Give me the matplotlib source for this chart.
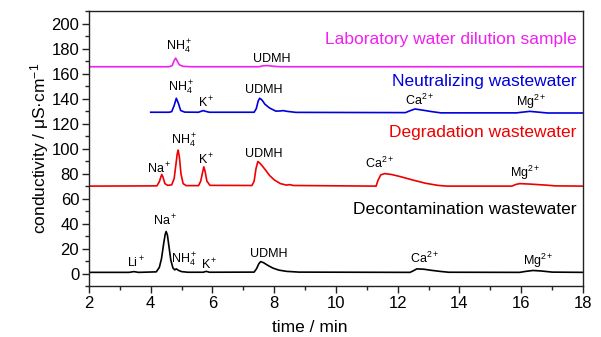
import matplotlib
matplotlib.use("Agg")
import matplotlib.pyplot as plt
from matplotlib.ticker import MultipleLocator

plt.rcParams['font.family'] = ['Liberation Sans', 'DejaVu Sans']
plt.rcParams['mathtext.fontset'] = 'custom'
plt.rcParams['mathtext.rm'] = 'Liberation Sans'
plt.rcParams['mathtext.it'] = 'Liberation Sans:italic'
plt.rcParams['mathtext.sf'] = 'Liberation Sans'

# chromatograms: retention time (min) and conductivity (uS/cm), one trace per sample
lab_t = [2.0, 4.6, 4.7, 4.76, 4.81, 4.86, 4.93, 5.05, 5.3, 7.5, 7.65, 7.8, 7.95, 8.2, 18.0]
lab_v = [165.5, 165.5, 166.5, 170.5, 172.4, 170.0, 167.0, 165.8, 165.5, 165.5, 166.3, 166.4, 165.9, 165.5, 165.5]

neu_t = [4.0, 4.6, 4.68, 4.76, 4.83, 4.9, 4.97, 5.1, 5.55, 5.65, 5.7, 5.78, 5.9, 7.35, 7.42, 7.48, 7.53,
         7.6, 7.7, 7.85, 8.05, 8.18, 8.29, 8.42, 8.7, 12.25, 12.4, 12.56, 12.8, 13.1, 13.4, 15.85,
         16.05, 16.28, 16.55, 16.85, 18.0]
neu_v = [129.1, 129.1, 129.6, 134.5, 140.3, 136.0, 130.5, 129.2, 129.1, 130.0, 130.4, 129.8, 129.1, 129.1,
         132.0, 138.0, 140.3, 139.0, 135.5, 132.5, 130.0, 130.1, 130.4, 129.8, 129.0, 128.8, 130.3,
         131.7, 130.8, 129.6, 128.6, 128.6, 129.2, 129.8, 129.2, 128.5, 128.5]

deg_t = [2.0, 4.2, 4.28, 4.33, 4.36, 4.4, 4.46, 4.55, 4.68, 4.76, 4.82, 4.86, 4.89, 4.93, 4.98, 5.05,
         5.15, 5.55, 5.62, 5.68, 5.72, 5.76, 5.82, 5.92, 7.28, 7.35, 7.41, 7.47, 7.55, 7.7, 7.85, 8.0,
         8.2, 8.4, 8.5, 8.62, 11.3, 11.36, 11.45, 11.58, 11.8, 12.1, 12.5, 12.9, 13.3, 13.6, 15.7, 15.82,
         15.95, 16.3, 16.8, 17.1, 18.0]
deg_v = [70.0, 70.2, 73.5, 77.5, 79.3, 77.0, 72.0, 70.6, 71.0, 76.0, 88.0, 96.0, 98.8, 93.0, 80.0, 72.0,
         70.4, 70.4, 74.0, 81.0, 85.4, 82.0, 74.0, 70.6, 70.5, 74.0, 84.0, 89.7, 88.0, 83.5, 78.5, 75.0,
         72.0, 70.8, 71.2, 70.5, 70.0, 74.5, 79.0, 80.0, 79.3, 77.5, 74.8, 72.3, 70.6, 70.0, 70.0, 71.3,
         72.0, 71.6, 70.8, 70.2, 70.0]

dec_t = [2.0, 3.3, 3.46, 3.6, 4.18, 4.28, 4.35, 4.42, 4.47, 4.5, 4.54, 4.59, 4.65, 4.72, 4.78, 4.83,
         4.9, 5.0, 5.2, 5.7, 5.8, 5.9, 7.35, 7.43, 7.5, 7.56, 7.65, 7.8, 7.95, 8.15, 8.4, 8.8, 12.4,
         12.5, 12.62, 12.85, 13.1, 13.4, 13.65, 15.95, 16.15, 16.38, 16.65, 17.0, 18.0]
dec_v = [1.0, 1.0, 1.6, 1.0, 1.4, 5.0, 12.0, 24.0, 31.5, 33.7, 31.0, 22.0, 11.0, 4.5, 3.0, 3.8,
         2.6, 1.6, 1.1, 1.1, 1.8, 1.1, 1.2, 4.0, 7.8, 9.6, 8.8, 6.5, 4.5, 2.8, 1.8, 1.2, 1.0,
         2.2, 3.8, 3.5, 2.6, 1.7, 1.1, 1.0, 1.8, 2.5, 2.1, 1.2, 1.0]

traces = [
    (lab_t, lab_v, '#f020f0', 'Laboratory water dilution sample', 187),
    (neu_t, neu_v, '#0000dd', 'Neutralizing wastewater', 154),
    (deg_t, deg_v, '#ee0000', 'Degradation wastewater', 113),
    (dec_t, dec_v, 'black', 'Decontamination wastewater', 51),
]

# peak annotations (label, time, height of text centre)
peak_labels = [
    ('NH$_4^+$', 4.92, 181.8), ('UDMH', 7.92, 171.6),
    ('NH$_4^+$', 5.0, 148.4), ('K$^+$', 5.81, 136.3), ('UDMH', 7.65, 146.6),
    ('Ca$^{2+}$', 12.72, 138.9), ('Mg$^{2+}$', 16.34, 137.6),
    ('Na$^+$', 4.27, 83.5), ('NH$_4^+$', 5.08, 106.1), ('K$^+$', 5.8, 91.3), ('UDMH', 7.67, 95.6),
    ('Ca$^{2+}$', 11.42, 88.1), ('Mg$^{2+}$', 16.12, 80.9),
    ('Li$^+$', 3.51, 9.0), ('Na$^+$', 4.48, 42.5), ('NH$_4^+$', 5.08, 11.2), ('K$^+$', 5.89, 7.2),
    ('UDMH', 7.83, 15.8), ('Ca$^{2+}$', 12.88, 11.8), ('Mg$^{2+}$', 16.55, 10.4),
]

fig = plt.figure(figsize=(6.01, 3.37), dpi=100)
ax = fig.add_axes([0.148, 0.151, 0.822, 0.816])

for t, v, color, name, ypos in traces:
    ax.plot(t, v, color=color, lw=1.2)
    ax.text(17.8, ypos, name, color=color, fontsize=12.5, ha='right', va='center')

for label, t, y in peak_labels:
    ax.text(t, y, label, fontsize=9, ha='center', va='center')

ax.set_xlim(2, 18)
ax.set_ylim(-10, 210)
ax.xaxis.set_major_locator(MultipleLocator(2))
ax.xaxis.set_minor_locator(MultipleLocator(1))
ax.yaxis.set_minor_locator(MultipleLocator(10))
ax.set_yticks(range(0, 201, 20))
ax.tick_params(which='both', direction='out', top=False, right=False, labelsize=12, width=1, color='#222222')
ax.tick_params(which='major', length=5, pad=2)
ax.tick_params(which='minor', length=3)
for sp in ax.spines.values():
    sp.set_linewidth(1)
    sp.set_color('#222222')

ax.set_xlabel('time / min', fontsize=12.5)
ax.xaxis.set_label_coords(0.447, -0.125)
ax.set_ylabel('conductivity / μS·cm$^{-1}$', fontsize=12.5)
ax.yaxis.set_label_coords(-0.076, 0.5)

fig.savefig('out.png', dpi=100)
